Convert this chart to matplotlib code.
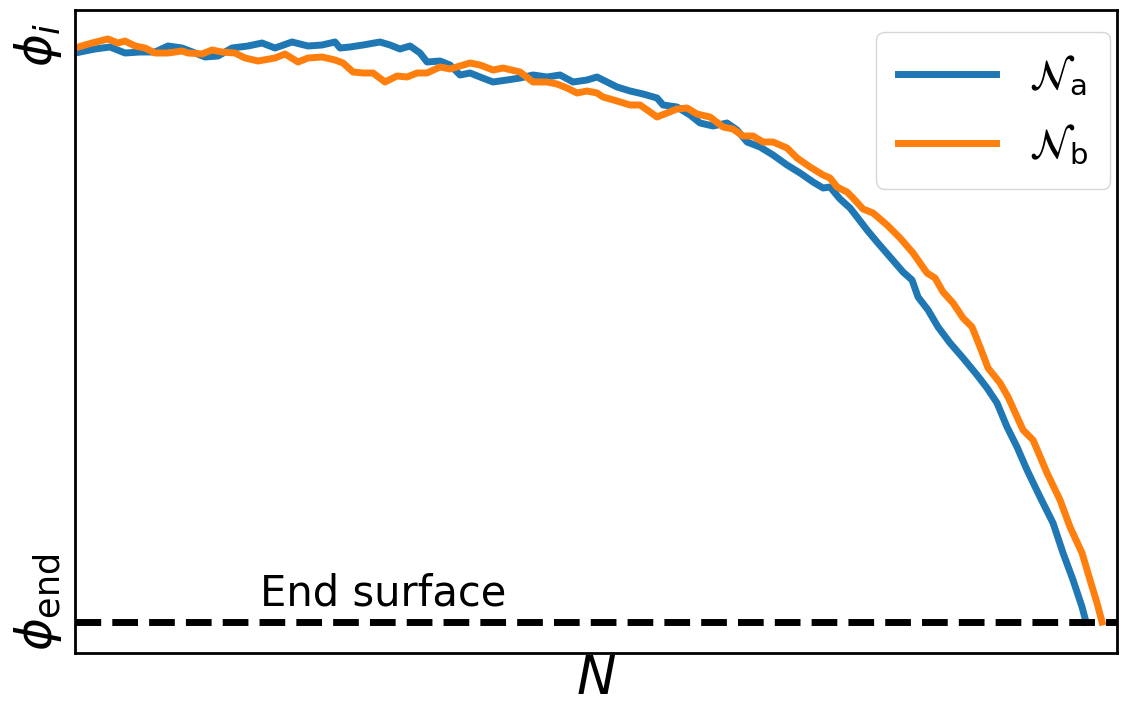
import matplotlib
matplotlib.use("Agg")
import matplotlib.pyplot as plt
from matplotlib.transforms import ScaledTranslation

# Number of e-folds (arbitrary units) and field value (phi_end = 0, phi_i = 57.7)
N_a = [0.0, 2.0, 3.5, 5.0, 6.5, 8.0, 9.3, 10.7, 12.0, 13.0, 14.3, 15.7, 17.3, 18.7, 20.0,
       21.7, 23.3, 24.7, 26.0, 26.5, 27.5, 28.8, 30.5, 31.5, 32.5, 33.5, 34.5, 35.2, 36.5,
       37.5, 38.5, 39.5, 40.5, 41.8, 43.2, 44.5, 45.8, 47.2, 48.5, 49.8, 51.2, 52.2, 53.2,
       54.2, 55.5, 56.8, 58.2, 58.8, 60.2, 61.5, 62.5, 63.8, 65.2, 66.2, 67.2, 68.5, 69.8,
       71.2, 72.5, 73.8, 74.8, 75.5, 76.5, 77.5, 78.2, 79.2, 80.2, 81.5, 82.8, 83.7, 84.3,
       85.3, 86.3, 87.5, 88.8, 90.2, 91.2, 92.2, 93.2, 94.2, 95.2, 96.5, 97.8, 98.8, 99.8,
       100.7, 101.1]
phi_a = [56.9, 57.3, 57.5, 56.9, 57.0, 57.0, 57.6, 57.4, 56.9, 56.5, 56.6, 57.4, 57.6, 57.9,
         57.4, 58.0, 57.6, 57.7, 58.0, 57.4, 57.5, 57.7, 58.0, 57.7, 57.3, 57.6, 56.9, 56.0,
         56.1, 55.7, 54.7, 54.9, 54.5, 54.0, 54.2, 54.4, 54.7, 54.5, 54.7, 54.0, 54.2, 54.5,
         54.0, 53.5, 53.1, 52.8, 52.4, 51.7, 51.5, 50.7, 49.9, 49.6, 49.9, 49.2, 48.0, 47.5,
         46.7, 45.7, 44.9, 44.0, 43.4, 43.5, 42.3, 41.4, 40.5, 39.2, 38.0, 36.5, 35.0, 34.2,
         32.5, 31.2, 29.5, 27.9, 26.4, 24.7, 23.4, 21.9, 19.5, 17.5, 15.2, 12.5, 9.9, 6.9,
         4.2, 1.5, 0.0]

N_b = [0.0, 1.7, 3.3, 4.3, 5.0, 6.0, 7.0, 8.0, 9.3, 10.7, 11.3, 12.7, 13.7, 14.7, 16.0,
       17.0, 18.3, 20.0, 21.0, 22.3, 23.3, 24.7, 26.0, 26.8, 27.8, 28.8, 29.8, 31.0, 32.2,
       33.2, 34.2, 35.2, 36.5, 37.5, 38.5, 39.5, 40.5, 41.8, 42.8, 44.5, 45.8, 47.2, 48.2,
       49.2, 50.2, 51.2, 52.2, 52.8, 54.2, 55.5, 56.5, 57.5, 58.2, 59.2, 60.2, 61.2, 62.2,
       63.5, 64.8, 65.8, 66.8, 67.8, 68.8, 69.8, 71.2, 72.2, 73.5, 74.8, 75.5, 76.2, 77.2,
       77.8, 78.8, 79.8, 81.2, 82.5, 83.8, 85.2, 86.0, 86.8, 87.8, 88.8, 89.7, 90.5, 91.3,
       92.5, 93.3, 94.8, 95.8, 97.2, 98.5, 99.5, 100.7, 101.5, 102.2, 102.7]
phi_b = [57.4, 57.9, 58.3, 57.9, 58.1, 57.6, 57.4, 56.9, 56.9, 57.1, 56.9, 56.8, 57.2, 57.0,
         56.9, 56.4, 56.1, 56.4, 56.8, 56.0, 56.4, 56.5, 56.2, 55.9, 55.0, 54.9, 54.9, 54.0,
         54.6, 54.5, 54.9, 54.9, 55.5, 55.3, 55.6, 55.9, 55.7, 55.2, 55.4, 55.0, 54.0, 54.0,
         53.8, 53.4, 52.9, 53.1, 52.9, 52.5, 52.1, 51.7, 51.7, 51.0, 50.5, 50.9, 51.3, 51.4,
         50.8, 50.5, 49.5, 49.3, 48.6, 48.6, 48.0, 48.0, 47.4, 46.4, 45.5, 44.7, 44.4, 43.5,
         43.0, 42.4, 41.3, 40.9, 39.7, 38.4, 36.9, 34.9, 34.4, 33.0, 31.9, 30.4, 29.5, 27.5,
         25.4, 23.9, 22.5, 19.2, 18.2, 14.9, 12.2, 9.5, 6.9, 4.2, 1.9, 0.0]

phi_i = 57.7
phi_end = 0.0
ytick_labels = [r"$\phi_{\rm end}$", r"$\phi_i$"]
series_labels = [r"$\mathcal{N}_\mathrm{a}$", r"$\mathcal{N}_\mathrm{b}$"]

fig = plt.figure(figsize=(11.23, 7.04), dpi=100)
ax = fig.add_axes([0.0668, 0.0724, 0.9279, 0.9134])

ax.plot(N_a, phi_a, color="#1f77b4", lw=5, label=series_labels[0])
ax.plot(N_b, phi_b, color="#ff7f0e", lw=5, label=series_labels[1])
ax.axhline(phi_end, color="black", lw=5, ls="--")
ax.text(18.5, 1.7, "End surface", fontsize=30, va="baseline", ha="left")

ax.set_xlim(0, 104.2)
ax.set_ylim(-3.1, 61.2)
ax.set_xticks([])
ax.set_yticks([phi_end, phi_i])
ax.set_yticklabels(ytick_labels, rotation=90, va="center")
ax.tick_params(axis="y", length=0, pad=8, labelsize=36)
# the phi_end label sits a little above its tick in the reference
lbl = ax.yaxis.get_major_ticks()[0].label1
lbl.set_transform(lbl.get_transform() + ScaledTranslation(0, 0.2, fig.dpi_scale_trans))
ax.set_xlabel(r"$N$", fontsize=38, labelpad=0)
for s in ax.spines.values():
    s.set_linewidth(2)

ax.legend(loc="upper right", fontsize=30, handlelength=2.35, borderaxespad=0,
          bbox_to_anchor=(0.9933, 0.9658), borderpad=0.52, labelspacing=0.6)

fig.savefig("out.png", dpi=100)
